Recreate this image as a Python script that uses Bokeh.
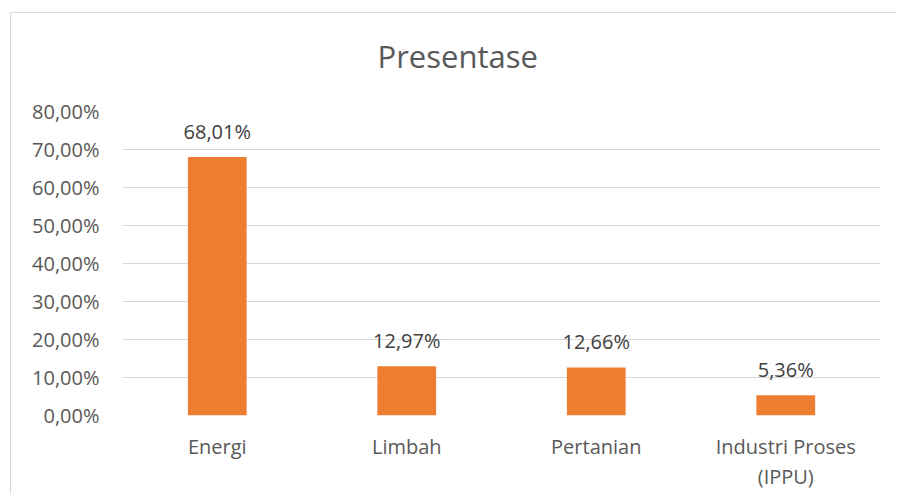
from bokeh.plotting import figure
from bokeh.models import ColumnDataSource, FactorRange, Range1d, FixedTicker, Title
from bokeh.embed import file_html
from bokeh.resources import INLINE

categories = ["Energi", "Limbah", "Pertanian", "Industri Proses\n(IPPU)"]
values = [68.01, 12.97, 12.66, 5.36]
value_labels = ["68,01%", "12,97%", "12,66%", "5,36%"]
tick_values = [0, 10, 20, 30, 40, 50, 60, 70, 80]
tick_labels = ["0,00%", "10,00%", "20,00%", "30,00%", "40,00%", "50,00%", "60,00%", "70,00%", "80,00%"]
title_text = "Presentase"

FONT = "Open Sans"
GREY = "#595959"

src = ColumnDataSource(dict(cat=categories, val=values, lab=value_labels))

p = figure(
    width=886, height=482,
    x_range=FactorRange(*categories, range_padding=0),
    y_range=Range1d(0, 80),
    output_backend="svg", toolbar_location=None,
    min_border_left=111, min_border_right=17, min_border_top=98, min_border_bottom=80,
)
p.margin = (12, 0, 0, 10)
p.styles = {"border-top": "1px solid #d9d9d9", "border-left": "1px solid #d9d9d9"}
p.outline_line_color = None
p.background_fill_color = "white"
p.border_fill_color = "white"

# blank (white) spacer between the plot area and the title
p.add_layout(Title(text=".", text_color="white", text_font_size="41px", standoff=0), "above")

p.title.text = title_text
p.title.align = "left"
p.title.offset = 255
p.title.standoff = 10
p.title.text_font = FONT
p.title.text_font_size = "31px"
p.title.text_font_style = "normal"
p.title.text_color = GREY

p.vbar(x="cat", top="val", width=0.31, source=src, color="#ED7D31", line_color=None)
p.text(x="cat", y="val", text="lab", source=src, text_align="center",
       text_baseline="alphabetic", y_offset=-26, text_font_size="20px",
       text_color="#404040", text_font={"value": FONT})

p.xgrid.grid_line_color = None
p.ygrid.grid_line_color = "#d9d9d9"
p.ygrid.grid_line_width = 1
p.yaxis.ticker = FixedTicker(ticks=tick_values)
p.yaxis.major_label_overrides = {v: l for v, l in zip(tick_values, tick_labels)}

for ax in (p.xaxis[0], p.yaxis[0]):
    ax.axis_line_color = None
    ax.major_tick_line_color = None
    ax.minor_tick_line_color = None
    ax.major_tick_out = 0
    ax.major_tick_in = 0
    ax.major_label_text_font = FONT
    ax.major_label_text_font_size = "20px"
    ax.major_label_text_color = GREY

p.yaxis.major_label_standoff = 23
p.xaxis.major_label_standoff = 17
p.xaxis.major_label_text_line_height = 1.13

open("out.html", "w").write(file_html(p, INLINE))
